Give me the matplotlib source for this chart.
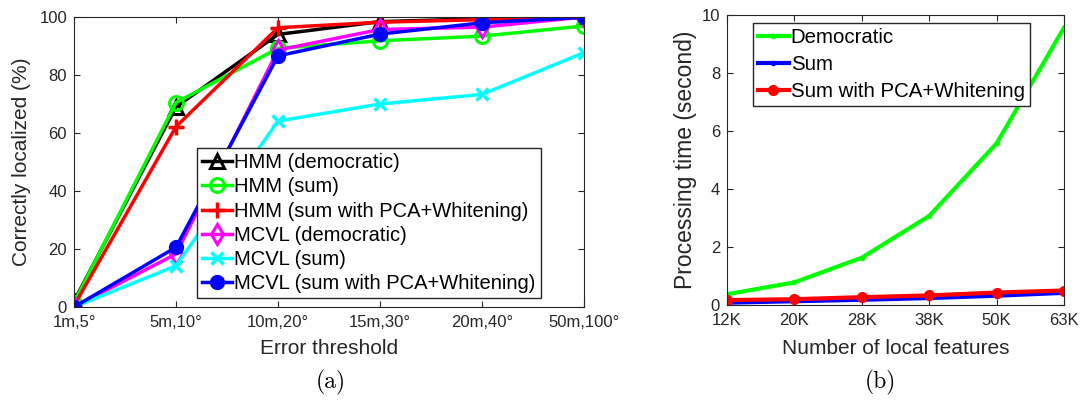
import matplotlib
matplotlib.use("Agg")
import matplotlib.pyplot as plt

# (a) localization accuracy
thresholds = ["1m,5°", "5m,10°", "10m,20°", "15m,30°", "20m,40°", "50m,100°"]
hmm_dem = [2, 69, 94, 98.4, 99.4, 99.8]
hmm_sum = [1.5, 70.5, 89.2, 91.8, 93.4, 96.9]
hmm_pca = [0.5, 62.2, 96.3, 98.2, 99.1, 99.7]
mcvl_dem = [0, 18.3, 88.6, 95.7, 96.5, 100]
mcvl_sum = [0, 14.2, 64.1, 70.0, 73.3, 87.7]
mcvl_pca = [0, 20.6, 86.6, 94.1, 98.0, 99.9]

# (b) processing time
features = ["12K", "20K", "28K", "38K", "50K", "63K"]
t_dem = [0.37, 0.78, 1.63, 3.07, 5.57, 9.56]
t_sum = [0.08, 0.13, 0.18, 0.24, 0.32, 0.42]
t_pca = [0.17, 0.20, 0.27, 0.33, 0.43, 0.50]

plt.rcParams['font.family'] = ['Liberation Sans', 'DejaVu Sans']
axcol = '#262626'

fig = plt.figure(figsize=(10.84, 4.0), dpi=100)
ax1 = fig.add_axes([0.0683, 0.2325, 0.4704, 0.725])
ax2 = fig.add_axes([0.6707, 0.2375, 0.3108, 0.725])

x = list(range(1, 7))
lw = 2.5
ax1.plot(x, hmm_dem, color='black', lw=lw, marker='^', ms=10, mfc='none', mew=2.2, label='HMM (democratic)')
ax1.plot(x, hmm_sum, color='#00ff00', lw=lw, marker='o', ms=10, mfc='none', mew=2.2, label='HMM (sum)')
ax1.plot(x, hmm_pca, color='red', lw=lw, marker='+', ms=11, mew=2.5, label='HMM (sum with PCA+Whitening)')
ax1.plot(x, mcvl_dem, color='magenta', lw=lw, marker='d', ms=10, mfc='none', mew=2.2, label='MCVL (democratic)')
ax1.plot(x, mcvl_sum, color='cyan', lw=lw, marker='x', ms=8, mew=2.5, label='MCVL (sum)')
ax1.plot(x, mcvl_pca, color='blue', lw=lw, marker='o', ms=10, label='MCVL (sum with PCA+Whitening)')

ax1.set_xlim(1, 6)
ax1.set_ylim(0, 100)
ax1.set_xticks(x)
ax1.set_xticklabels(thresholds)
ax1.set_yticks([0, 20, 40, 60, 80, 100])
ax1.set_xlabel('Error threshold', fontsize=15, color=axcol, labelpad=6)
ax1.set_ylabel('Correctly localized (%)', fontsize=15, color=axcol, labelpad=6)
leg1 = ax1.legend(loc='upper left', bbox_to_anchor=(0.241, 0.548), fontsize=14.5,
                  handlelength=1.5, handletextpad=0.1, borderpad=0.25, labelspacing=0.26,
                  fancybox=False, framealpha=1, borderaxespad=0)
leg1.get_frame().set_edgecolor(axcol)
leg1.get_frame().set_linewidth(1.0)

ax2.plot(x, t_dem, color='#00ff00', lw=3, marker='.', ms=6, label='Democratic')
ax2.plot(x, t_sum, color='blue', lw=3, marker='.', ms=6, label='Sum')
ax2.plot(x, t_pca, color='red', lw=3, marker='o', ms=7, label='Sum with PCA+Whitening')
ax2.set_xlim(1, 6)
ax2.set_ylim(0, 10)
ax2.set_xticks(x)
ax2.set_xticklabels(features)
ax2.set_yticks([0, 2, 4, 6, 8, 10])
ax2.set_xlabel('Number of local features', fontsize=15, color=axcol, labelpad=8)
ax2.set_ylabel('Processing time (second)', fontsize=16.5, color=axcol, labelpad=3)
leg2 = ax2.legend(loc='upper left', bbox_to_anchor=(0.077, 0.972), fontsize=14.7,
                  handlelength=1.5, handletextpad=0.1, borderpad=0.25, labelspacing=0.38,
                  fancybox=False, framealpha=1, borderaxespad=0)
leg2.get_frame().set_edgecolor(axcol)
leg2.get_frame().set_linewidth(1.0)

for ax in (ax1, ax2):
    ax.tick_params(direction='in', top=True, right=True, labelsize=12, colors=axcol,
                   length=4, width=0.8)
    ax.tick_params(axis='x', pad=6)
    ax.tick_params(axis='y', pad=5)
    for s in ax.spines.values():
        s.set_color(axcol)
        s.set_linewidth(0.8)

fig.text(0.305, 0.045, '(a)', fontsize=17, fontname='cmr10', ha='center', va='center')
fig.text(0.812, 0.045, '(b)', fontsize=17, fontname='cmr10', ha='center', va='center')

fig.savefig('out.png', dpi=100)
